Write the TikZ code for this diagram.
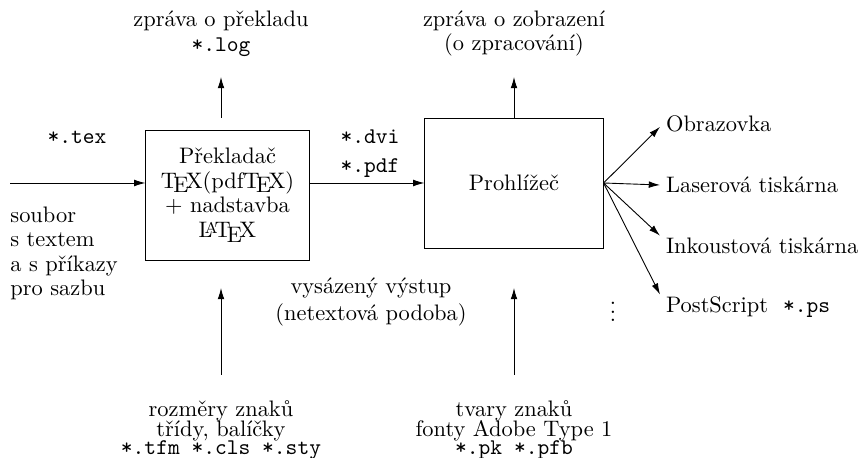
\documentclass[tikz,border=0pt]{standalone}
\usepackage{amsmath,amssymb}
\usepackage{xcolor}
\usepackage{tikz}
\usetikzlibrary{arrows.meta}

\begin{document}
\begin{tikzpicture}[x=0.446pt, y=-0.446pt, >={Latex[length=5pt, width=3pt]},
  box/.style={draw, align=center, minimum width=72.8pt, minimum height=58pt},
  lbl/.style={inner sep=0pt, align=center},
  dev/.style={inner xsep=2.5pt, inner ysep=1pt, anchor=base west}]
  \useasboundingbox (0,0) rectangle (859,458);
  \node[box] (prek) at (227.5,195) {Překladač\\[-1pt]\TeX(pdf\TeX)\\[-1pt]+ nadstavba\\[-1pt]\LaTeX};
  \node[box, minimum width=79.5pt] (prohl) at (514,183) {Prohlížeč};
  \node[lbl, anchor=south] (log) at (221,57) {zpráva o překladu\\[-1pt]\texttt{*.log}};
  \node[lbl, anchor=south] (zobr) at (514,57) {zpráva o zobrazení\\[-1pt](o zpracování)};
  \node[lbl, anchor=base] (tex) at (77,144) {\texttt{*.tex}};
  \node[lbl, anchor=base] (dvi) at (370,144) {\texttt{*.dvi}};
  \node[lbl, anchor=base] (pdf) at (370,173) {\texttt{*.pdf}};
  \node[lbl, align=left, anchor=north west] (srctxt) at (10,206.5) {soubor\\[-1.1pt]s textem\\[-1.1pt]a s příkazy\\[-1.1pt]pro sazbu};
  \node[lbl, anchor=north] (vys) at (371,277) {vysázený výstup\\(netextová podoba)};
  \node[lbl, anchor=north] (dims) at (221,400) {rozměry znaků\\[-3pt]třídy, balíčky\\[-4pt]\texttt{*.tfm *.cls *.sty}};
  \node[lbl, anchor=north] (fonts) at (514,400) {tvary znaků\\[-3pt]fonty Adobe Type 1\\[-4pt]\texttt{*.pk *.pfb}};
  \node[dev] (obr) at (660,131.7) {Obrazovka};
  \node[dev] (laser) at (660,192.7) {Laserová tiskárna};
  \node[dev] (ink) at (660,254) {Inkoustová tiskárna};
  \node[dev] (ps) at (660,313) {PostScript\ \ \texttt{*.ps}};
  \node[lbl, anchor=base] (more) at (613,322) {$\vdots$};
  \coordinate (src) at (10,183);
  \coordinate (toprow) at (0,77);
  \coordinate (midrow) at (0,288);
  \coordinate (botrow) at (0,375);
  \draw[->] (src) -- (src -| prek.west);
  \draw[->] (prek.east |- prohl.west) -- (prohl.west);
  \draw[->] (log |- prohl.north) -- (log |- toprow);
  \draw[->] (prohl.north) -- (prohl.north |- toprow);
  \draw[->] (dims |- botrow) -- (dims |- midrow);
  \draw[->] (fonts |- botrow) -- (fonts |- midrow);
  \foreach \dst/\anc in {obr/mid west, laser/west, ink/north west, ps/north west}
    \draw[->] (prohl.east) -- (\dst.\anc);
\end{tikzpicture}
\end{document}
